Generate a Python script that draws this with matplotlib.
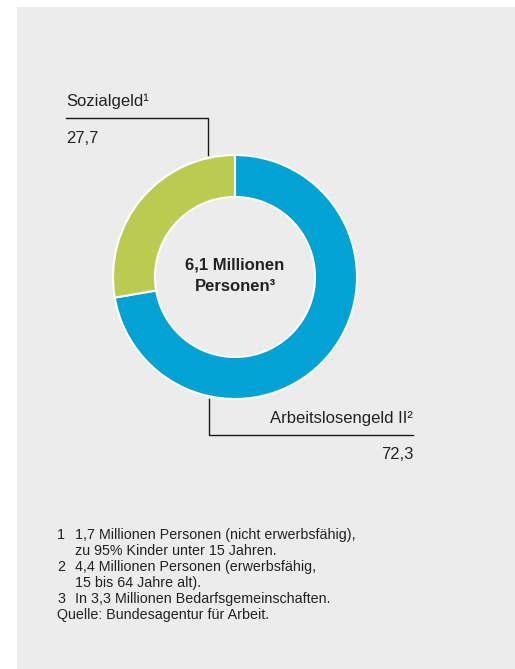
import matplotlib.pyplot as plt
from matplotlib.patches import Rectangle

plt.rcParams['font.family'] = ['Liberation Sans', 'DejaVu Sans']

# ============================================
# DATOS
# ============================================

categories = ['Arbeitslosengeld II²', 'Sozialgeld¹']
shares = [72.3, 27.7]
share_labels = ['72,3', '27,7']
colors = ['#00A3D4', '#BBCB50']

center_text = '6,1 Millionen\nPersonen³'

footnotes = [
    ('1', '1,7 Millionen Personen (nicht erwerbsfähig),'),
    ('', 'zu 95% Kinder unter 15 Jahren.'),
    ('2', '4,4 Millionen Personen (erwerbsfähig,'),
    ('', '15 bis 64 Jahre alt).'),
    ('3', 'In 3,3 Millionen Bedarfsgemeinschaften.'),
]
source = 'Quelle: Bundesagentur für Arbeit.'

W, H = 515, 669
text_color = '#222222'
bg = '#EBECEB'


def Y(y):
    # fila en píxeles (arriba = 0) -> y de datos
    return H - y


fig = plt.figure(figsize=(W / 100, H / 100), dpi=100)
fig.patch.set_facecolor('white')
ax = fig.add_axes([0, 0, 1, 1])

# ============================================
# PANEL GRIS
# ============================================

ax.add_patch(Rectangle((17, 0), W - 17, Y(7), facecolor=bg, edgecolor='none', zorder=0))

# ============================================
# DONUT
# ============================================

cx, cy, r = 235, 277, 122
ax.pie(
    shares,
    colors=colors,
    startangle=90,
    counterclock=False,
    center=(cx, Y(cy)),
    radius=r,
    wedgeprops=dict(width=42, edgecolor='white', linewidth=1.5),
)

ax.text(cx, Y(cy) + 1, center_text, ha='center', va='center',
        fontsize=12, fontweight='bold', color=text_color, linespacing=1.55)

# ============================================
# ETIQUETAS CON LÍNEAS
# ============================================

# Sozialgeld (arriba izquierda)
ax.plot([66, 208, 208], [Y(118), Y(118), Y(155)], color='#1a1a1a', lw=1.0)
ax.text(66, Y(106), categories[1], ha='left', va='baseline',
        fontsize=12, color=text_color)
ax.text(66, Y(143), share_labels[1], ha='left', va='baseline',
        fontsize=12, color=text_color)

# Arbeitslosengeld II (abajo derecha)
ax.plot([209, 209, 413], [Y(399), Y(435), Y(435)], color='#1a1a1a', lw=1.0)
ax.text(413, Y(423), categories[0], ha='right', va='baseline',
        fontsize=12, color=text_color)
ax.text(413, Y(459), share_labels[0], ha='right', va='baseline',
        fontsize=12, color=text_color)

# ============================================
# NOTAS
# ============================================

y0, step = 539, 16
for i, (num, txt) in enumerate(footnotes):
    yy = Y(y0 + i * step)
    if num:
        ax.text(57, yy, num, ha='left', va='baseline', fontsize=10.3, color=text_color)
    ax.text(75, yy, txt, ha='left', va='baseline', fontsize=10.3, color=text_color)
ax.text(57, Y(y0 + len(footnotes) * step), source, ha='left', va='baseline',
        fontsize=10.3, color=text_color)

ax.set_xlim(0, W)
ax.set_ylim(0, H)
ax.set_aspect('auto')
ax.axis('off')

plt.savefig('out.png', dpi=100, facecolor='white')
